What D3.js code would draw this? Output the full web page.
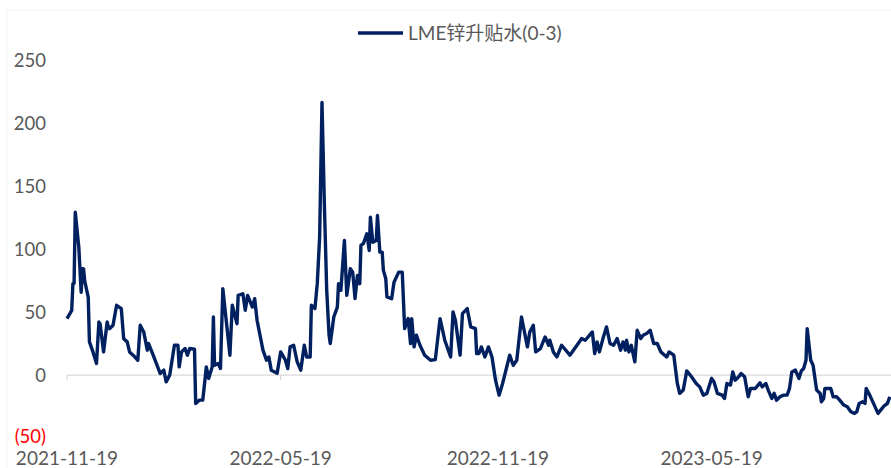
<!DOCTYPE html>
<html>
<head>
<meta charset="utf-8">
<script src="https://cdn.jsdelivr.net/npm/d3@7"></script>
<style>
  body { margin: 0; background: #fff; }
  svg { display: block; }
  text { font-family: Lato, "Noto Sans CJK SC", sans-serif; fill: #595959; }
</style>
</head>
<body>
<div id="chart"></div>
<script>
// LME zinc 0-3 spread
const startDate = "2021-11-19";
const endOffset = 698; // days after start at the right edge
const dayOffsets = [0,4,5,6,7,10,12,13,14,15,18,19,22,25,27,28,31,34,35,36,39,42,46,48,51,53,56,60,62,65,68,69,73,79,82,84,87,91,94,95,97,100,102,104,108,109,112,115,117,118,120,123,124,125,128,130,132,138,140,144,145,149,151,153,157,159,161,166,169,171,173,178,181,185,187,189,192,195,198,201,203,206,207,210,212,214,216,218,220,222,223,226,229,230,232,235,237,240,242,244,246,248,249,251,254,256,257,259,262,263,265,267,268,270,271,275,277,281,284,286,289,291,292,294,296,299,303,308,312,316,320,325,327,329,333,335,339,342,346,347,349,351,354,357,360,363,366,369,375,378,381,385,390,392,395,397,401,405,408,409,412,415,419,426,436,439,445,447,449,451,454,457,460,463,466,469,471,473,474,476,478,481,483,486,488,491,494,497,500,503,508,510,514,517,519,522,525,529,533,536,539,542,546,548,551,555,557,559,562,564,566,569,571,574,577,579,583,587,589,592,594,597,599,601,604,607,610,612,614,617,620,622,624,626,627,630,632,635,638,639,641,642,647,649,652,654,658,661,664,667,669,671,674,676,677,680,687,692,695,697];
const values = [45,51.6,72.8,73,129.7,101.9,66,84.7,84.7,75,62,26.5,18.5,9.3,42.3,41,18.5,42.3,38.4,37,39.7,55.6,53,29,26.5,18.5,15.9,11.9,39.7,34.4,19.9,25.2,15.9,1.3,4,-5.3,0,23.8,23.8,6.6,18.5,21.2,15.9,21.2,20.6,-22.5,-19.9,-19.9,-2.6,6.6,-2.6,6.6,46.3,7.9,9.3,5.3,68.8,15.9,55.6,41,63.5,64.8,51.6,63.5,54.2,60.9,43.7,19.9,11.9,14.5,4,1.5,18.5,11.9,5.3,22.5,23.8,10.6,4,23.8,14.5,14.5,55.6,53,72.8,109.8,217,136.3,67.5,31.8,25.2,46.3,54.2,72.8,67.5,107.2,63.5,84.7,82,60.9,79.4,72.8,103.2,104.6,112.5,99.2,125.7,105.8,107.2,127,97.9,97.9,83.4,77,62.2,60.9,74,82,82,37,45,25.2,45,22.5,31.8,23.8,15.9,11.9,12.4,45,27.8,14.5,50.3,43.7,15.9,49,53,38.4,37,17.2,17.2,22.5,14.5,22.5,14.5,-4,-15.9,-6.6,15.9,7.9,11.9,46.3,22.5,34.4,39.7,18.5,21.2,30.4,23.8,27.8,18.5,14.5,23.8,15.9,29.1,27.8,34.4,17.2,26.5,18.5,29.1,38.4,25.2,23.8,29.1,19.9,26.5,19.9,27.8,18.5,23.8,10.6,35.7,29.1,31.8,33.1,35.7,25.2,25.2,18.5,14.5,18.5,15.9,-6.6,-14.5,-11.9,3.4,-1.3,-6.6,-9.3,-15.9,-14.5,-2.6,-5.3,-14.5,-15.9,-18.5,-6.6,-7.9,2.6,-4,-1.3,1.3,-1.3,-17.2,-10.6,-10.6,-6.1,-9.3,-6.6,-11.9,-18.5,-14.5,-19.9,-17.2,-15.9,-15.9,-10.6,2.6,4,-2.6,3.4,5.3,11.9,37,11.9,7.9,-11.9,-14.5,-21.2,-18.5,-10.6,-10.6,-17.2,-17.2,-19.3,-23.8,-25.2,-29.1,-30.4,-29.1,-22.5,-21.2,-22.5,-10.6,-15.9,-30.4,-24.6,-22.5,-17.2];
const yTicks = [-50, 0, 50, 100, 150, 200, 250];
const xTickLabels = ["2021-11-19", "2022-05-19", "2022-11-19", "2023-05-19"];
const seriesName = "LME锌升贴水(0-3)";

const width = 891, height = 468;
const parse = d3.timeParse("%Y-%m-%d");
const t0 = parse(startDate);
const data = dayOffsets.map((d, i) => ({ date: d3.timeDay.offset(t0, d), value: values[i] }));

const x = d3.scaleTime()
    .domain([t0, d3.timeDay.offset(t0, endOffset)])
    .range([67, 891]);
const y = d3.scaleLinear().domain([-50, 250]).range([438, 61]);

const svg = d3.select("#chart").append("svg")
    .attr("width", width)
    .attr("height", height);

// faint frame
svg.append("rect")
    .attr("x", 7).attr("y", 10)
    .attr("width", width).attr("height", height)
    .attr("fill", "none").attr("stroke", "#f3f3f3");

// y labels
svg.selectAll(".ylab")
    .data(yTicks)
    .enter().append("text")
    .attr("class", "ylab")
    .attr("x", 46)
    .attr("y", d => y(d))
    .attr("dy", d => d < 0 ? "0.25em" : "0.35em")
    .attr("text-anchor", "end")
    .style("font-size", "18.5px")
    .style("fill", d => d < 0 ? "#ff0000" : "#595959")
    .text(d => d < 0 ? "(" + Math.abs(d) + ")" : d);

// zero line with ticks
svg.append("line")
    .attr("x1", 67).attr("x2", width)
    .attr("y1", y(0)).attr("y2", y(0))
    .attr("stroke", "#d9d9d9").attr("stroke-width", 1.2);

const tickDates = xTickLabels.map(parse);
svg.selectAll(".xtick")
    .data(tickDates)
    .enter().append("line")
    .attr("x1", d => x(d)).attr("x2", d => x(d))
    .attr("y1", y(0)).attr("y2", y(0) + 5)
    .attr("stroke", "#d9d9d9").attr("stroke-width", 1.2);

svg.selectAll(".xlab")
    .data(tickDates)
    .enter().append("text")
    .attr("x", d => x(d))
    .attr("y", 458)
    .attr("dy", "0.35em")
    .attr("text-anchor", "middle")
    .style("font-size", "19px")
    .text((d, i) => xTickLabels[i]);

// series
const line = d3.line()
    .x(d => x(d.date))
    .y(d => y(d.value));

svg.append("path")
    .datum(data)
    .attr("d", line)
    .attr("fill", "none")
    .attr("stroke", "#002060")
    .attr("stroke-width", 3.4)
    .attr("stroke-linejoin", "round");

// legend
svg.append("line")
    .attr("x1", 358).attr("x2", 403)
    .attr("y1", 33).attr("y2", 33)
    .attr("stroke", "#002060").attr("stroke-width", 3.5);
svg.append("text")
    .attr("x", 408).attr("y", 33)
    .attr("dy", "0.35em")
    .style("font-size", "19px")
    .text(seriesName);
</script>
</body>
</html>
